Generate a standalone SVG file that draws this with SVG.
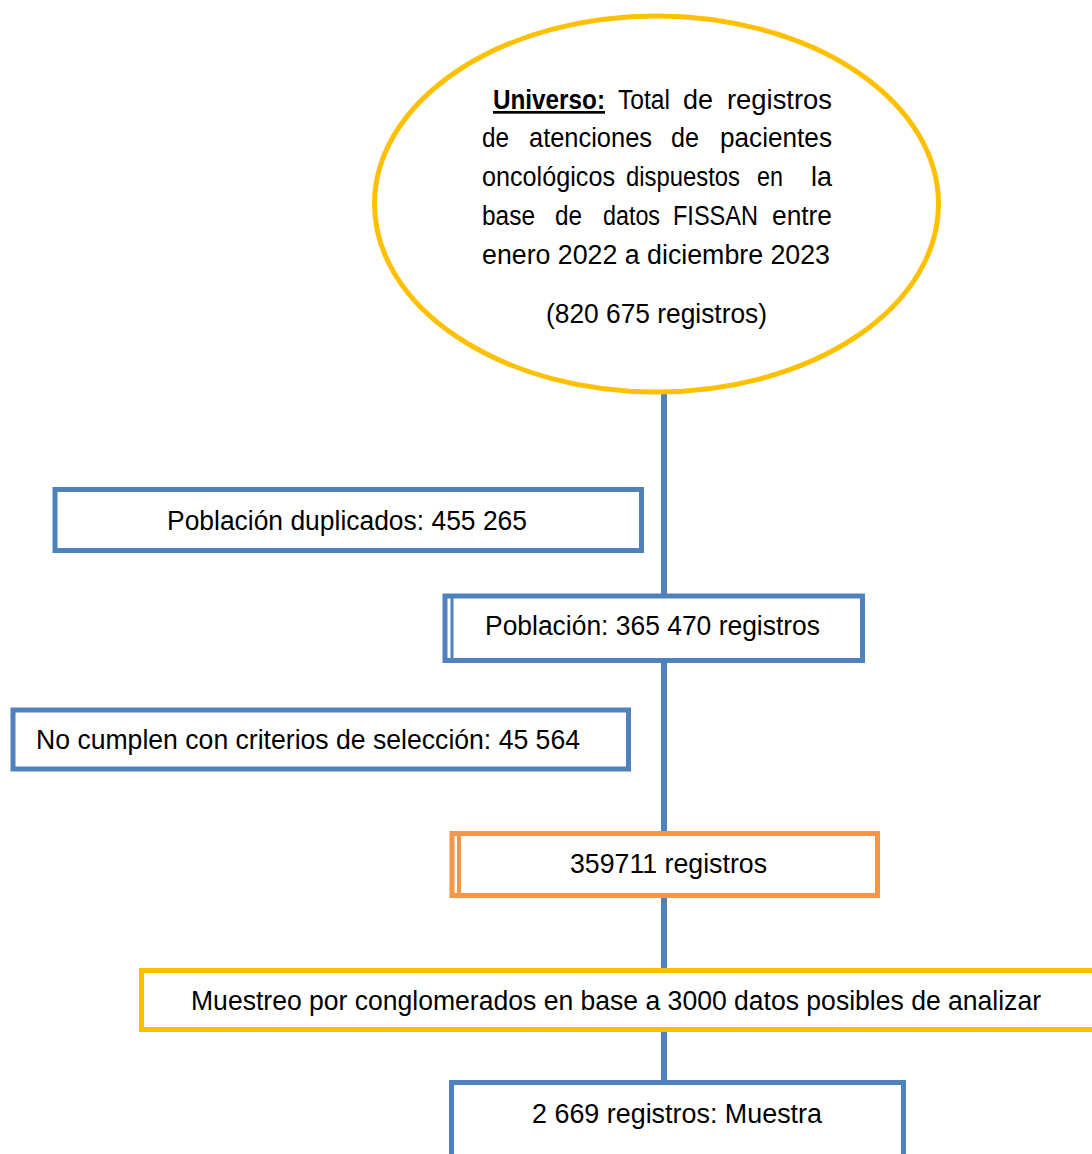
<svg xmlns="http://www.w3.org/2000/svg" width="1092" height="1154" viewBox="0 0 1092 1154">
<style>
.t{font-family:"Liberation Sans",Arial,sans-serif;font-size:27px;fill:#000}
.blue{fill:#fff;stroke:#4F81BD;stroke-width:5}
.orange{fill:#fff;stroke:#F79646;stroke-width:5}
.yellow{fill:#fff;stroke:#FFC000;stroke-width:5}
.conn{stroke:#4F81BD;stroke-width:6;fill:none}
</style>
<rect width="1092" height="1154" fill="#fff"/>
<g id="connectors">
<line class="conn" x1="664" y1="394" x2="664" y2="596"/>
<line class="conn" x1="664" y1="660" x2="664" y2="833"/>
<line class="conn" x1="664" y1="896" x2="664" y2="970"/>
<line class="conn" x1="664" y1="1030" x2="664" y2="1082"/>
</g>
<g id="universo">
<ellipse class="yellow" cx="656.5" cy="204" rx="282" ry="188"/>
<text class="t" y="109"><tspan x="493" font-weight="bold" text-decoration="underline" textLength="112" lengthAdjust="spacingAndGlyphs">Universo:</tspan><tspan x="618" textLength="52" lengthAdjust="spacingAndGlyphs">Total</tspan><tspan x="683" textLength="30" lengthAdjust="spacingAndGlyphs">de</tspan><tspan x="727" textLength="105" lengthAdjust="spacingAndGlyphs">registros</tspan></text>
<text class="t" y="147"><tspan x="482" textLength="27" lengthAdjust="spacingAndGlyphs">de</tspan><tspan x="529" textLength="123" lengthAdjust="spacingAndGlyphs">atenciones</tspan><tspan x="671" textLength="28" lengthAdjust="spacingAndGlyphs">de</tspan><tspan x="720" textLength="112" lengthAdjust="spacingAndGlyphs">pacientes</tspan></text>
<text class="t" y="186"><tspan x="482" textLength="133" lengthAdjust="spacingAndGlyphs">oncológicos</tspan><tspan x="626" textLength="114" lengthAdjust="spacingAndGlyphs">dispuestos</tspan><tspan x="757" textLength="26" lengthAdjust="spacingAndGlyphs">en</tspan><tspan x="811" textLength="21" lengthAdjust="spacingAndGlyphs">la</tspan></text>
<text class="t" y="225"><tspan x="482" textLength="53" lengthAdjust="spacingAndGlyphs">base</tspan><tspan x="555" textLength="27" lengthAdjust="spacingAndGlyphs">de</tspan><tspan x="603" textLength="57" lengthAdjust="spacingAndGlyphs">datos</tspan><tspan x="673" textLength="85" lengthAdjust="spacingAndGlyphs">FISSAN</tspan><tspan x="772" textLength="60" lengthAdjust="spacingAndGlyphs">entre</tspan></text>
<text class="t" x="482" y="264" textLength="348" lengthAdjust="spacingAndGlyphs">enero 2022 a diciembre 2023</text>
<text class="t" x="546" y="323" textLength="221" lengthAdjust="spacingAndGlyphs">(820 675 registros)</text>
</g>
<g id="duplicados">
<rect class="blue" x="55" y="489.5" width="586.5" height="61"/>
<text class="t" x="167" y="530" textLength="360" lengthAdjust="spacingAndGlyphs">Población duplicados: 455 265</text>
</g>
<g id="poblacion">
<rect class="blue" x="445" y="596" width="417.5" height="64.5"/>
<line x1="452" y1="596" x2="452" y2="660" stroke="#4F81BD" stroke-width="3"/>
<text class="t" x="485" y="635" textLength="335" lengthAdjust="spacingAndGlyphs">Población: 365 470 registros</text>
</g>
<g id="no-cumplen">
<rect class="blue" x="13" y="710" width="615.5" height="59"/>
<text class="t" x="36" y="749" textLength="544" lengthAdjust="spacingAndGlyphs">No cumplen con criterios de selección: 45 564</text>
</g>
<g id="registros">
<rect class="orange" x="452" y="833.5" width="425.5" height="62"/>
<line x1="459" y1="833.5" x2="459" y2="895.5" stroke="#F79646" stroke-width="4"/>
<text class="t" x="570" y="872.5" textLength="197" lengthAdjust="spacingAndGlyphs">359711 registros</text>
</g>
<g id="muestreo">
<rect class="yellow" x="141.5" y="970.5" width="1000" height="59"/>
<text class="t" x="191" y="1010" textLength="850" lengthAdjust="spacingAndGlyphs">Muestreo por conglomerados en base a 3000 datos posibles de analizar</text>
</g>
<g id="muestra">
<rect class="blue" x="451.5" y="1082.5" width="452" height="100"/>
<text class="t" x="532" y="1122.5" textLength="290" lengthAdjust="spacingAndGlyphs">2 669 registros: Muestra</text>
</g>
</svg>
